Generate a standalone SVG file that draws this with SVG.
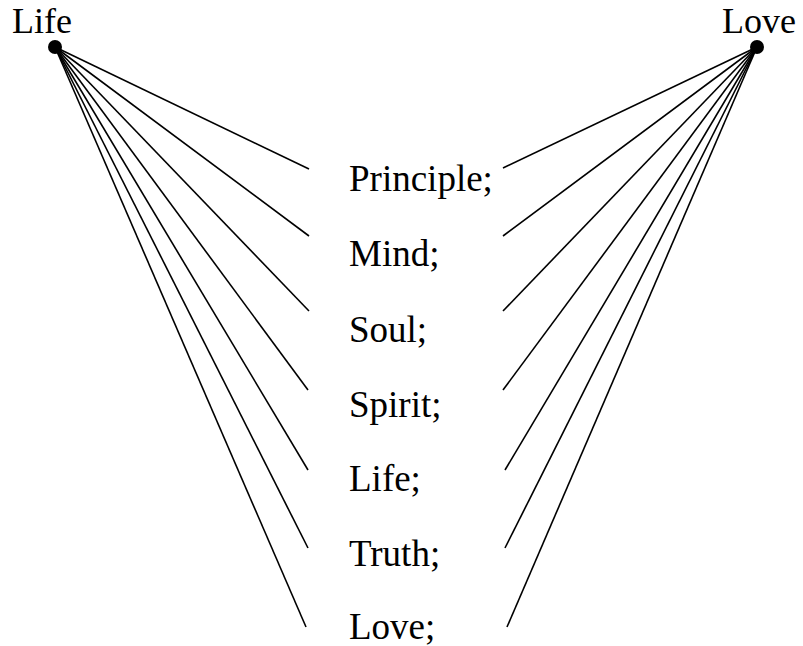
<svg xmlns="http://www.w3.org/2000/svg" width="803" height="646" viewBox="0 0 803 646">
<style>
text{font-family:"Liberation Serif","Times New Roman",serif;font-size:36px;fill:#000}
.m text{font-size:37px}
.c line{stroke:#000;stroke-width:1.6}
</style>
<rect width="803" height="646" fill="#fff"/>
<g class="c" id="connectors">
<line x1="55" y1="47" x2="309" y2="169"/>
<line x1="55" y1="47" x2="309" y2="236"/>
<line x1="55" y1="47" x2="309" y2="311"/>
<line x1="55" y1="47" x2="308" y2="390"/>
<line x1="55" y1="47" x2="308" y2="470"/>
<line x1="55" y1="47" x2="308" y2="548"/>
<line x1="55" y1="47" x2="306" y2="627"/>
<line x1="757" y1="47" x2="503" y2="168"/>
<line x1="757" y1="47" x2="503" y2="236"/>
<line x1="757" y1="47" x2="503" y2="311"/>
<line x1="757" y1="47" x2="503" y2="390"/>
<line x1="757" y1="47" x2="505" y2="470"/>
<line x1="757" y1="47" x2="505" y2="548"/>
<line x1="757" y1="47" x2="507" y2="627"/>
</g>
<g id="life"><circle cx="55" cy="47" r="7"/><text x="12" y="33">Life</text></g>
<g id="love"><circle cx="757" cy="47" r="7"/><text x="722" y="33">Love</text></g>
<g class="m">
<g id="principle"><text x="349" y="191">Principle;</text></g>
<g id="mind"><text x="349" y="266">Mind;</text></g>
<g id="soul"><text x="349" y="342">Soul;</text></g>
<g id="spirit"><text x="349" y="417">Spirit;</text></g>
<g id="life2"><text x="349" y="491">Life;</text></g>
<g id="truth"><text x="349" y="566">Truth;</text></g>
<g id="love2"><text x="349" y="639">Love;</text></g>
</g>
</svg>
